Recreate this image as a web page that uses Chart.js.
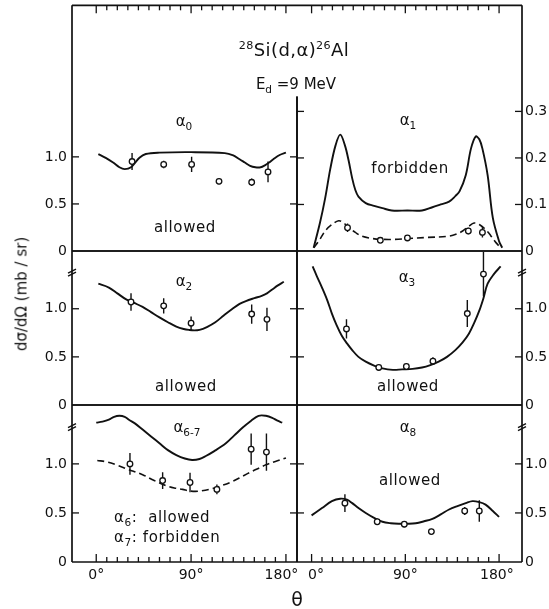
<!DOCTYPE html>
<html>
<head>
<meta charset="utf-8">
<script src="https://cdn.jsdelivr.net/npm/chart.js@4.4.0/dist/chart.umd.min.js"></script>
<style>
  body { margin: 0; background: #fff; }
  #wrap { position: relative; width: 549px; height: 609px; overflow: hidden; font-family: 'DejaVu Sans', sans-serif; color: #111; }
  #wrap canvas { position: absolute; left: 0; top: 0; }
  .t { position: absolute; transform: translate(-50%, -50%); white-space: nowrap; line-height: 1; }
  .l { position: absolute; transform: translate(0, -50%); white-space: nowrap; line-height: 1; }
  sup { font-size: 0.62em; vertical-align: 0.6em; line-height: 0; }
  sub { font-size: 0.7em; vertical-align: -0.45em; line-height: 0; }
  .lab { font-size: 15px; letter-spacing: 0.6px; }
  .al { font-size: 15px; }
</style>
</head>
<body>
<div id="wrap">
  <canvas id="c0" width="549" height="609"></canvas>
  <canvas id="c1" width="549" height="609"></canvas>
  <canvas id="c2" width="549" height="609"></canvas>
  <canvas id="c3" width="549" height="609"></canvas>
  <canvas id="c4" width="549" height="609"></canvas>
  <canvas id="c5" width="549" height="609"></canvas>

  <div class="t" style="left:294px;top:50px;font-size:18px;letter-spacing:0.4px"><sup>28</sup>Si(d,α)<sup>26</sup>Al</div>
  <div class="t" style="left:296px;top:84px;font-size:15px">E<sub>d</sub> =9 MeV</div>

  <div class="t al" style="left:184px;top:121px">α<sub>0</sub></div>
  <div class="t al" style="left:408px;top:120px">α<sub>1</sub></div>
  <div class="t al" style="left:184px;top:281px">α<sub>2</sub></div>
  <div class="t al" style="left:407px;top:277px">α<sub>3</sub></div>
  <div class="t al" style="left:187px;top:427px">α<sub>6-7</sub></div>
  <div class="t al" style="left:408px;top:427px">α<sub>8</sub></div>

  <div class="t lab" style="left:185px;top:227px">allowed</div>
  <div class="t lab" style="left:410px;top:168px">forbidden</div>
  <div class="t lab" style="left:186px;top:386px">allowed</div>
  <div class="t lab" style="left:408px;top:386px">allowed</div>
  <div class="t lab" style="left:410px;top:480px">allowed</div>
  <div class="l lab" style="left:114px;top:517px">α<sub>6</sub>:&nbsp; allowed</div>
  <div class="l lab" style="left:114px;top:537px">α<sub>7</sub>: forbidden</div>

  <div class="t" style="left:22px;top:294px;font-size:15px;transform:translate(-50%,-50%) rotate(-90deg)">dσ/dΩ (mb / sr)</div>
  <div class="t" style="left:297px;top:599px;font-size:19px">θ</div>
</div>
<script>
// --- data (angle in degrees, cross section in mb/sr) ---
const xLabels = [0, 90, 180];
const leftTicks = [0, 0.5, 1.0];
const a1Ticks = [0, 0.1, 0.2, 0.3];

// alpha0
const a0Theta = [34, 64, 90.5, 116.5, 147.5, 163];
const a0Val = [0.95, 0.92, 0.92, 0.74, 0.73, 0.84];
const a0Err = [0.09, 0.04, 0.08, 0.03, 0.04, 0.11];
const a0CurveT = [2, 9, 16, 22, 27, 33, 41, 47, 60, 90, 122, 130, 136, 141, 146, 151, 156, 160, 164, 168, 174, 180];
const a0CurveV = [1.03, 0.99, 0.94, 0.89, 0.87, 0.89, 0.99, 1.03, 1.045, 1.05, 1.04, 1.015, 0.975, 0.94, 0.905, 0.89, 0.89, 0.91, 0.94, 0.975, 1.02, 1.045];

// alpha1 (right scale, 0 - 0.3)
const a1Theta = [34.5, 66, 92, 150.5, 164];
const a1Val = [0.05, 0.023, 0.028, 0.043, 0.04];
const a1Err = [0.009, 0.005, 0.005, 0.007, 0.011];
const a1CurveT = [2, 8, 13, 18, 23, 27.5, 32, 35.5, 39, 42, 45, 52, 60, 68, 77, 92, 106, 116, 124, 132, 138, 142, 148, 153, 157.5, 161, 164, 169, 174, 180, 183];
const a1CurveV = [0.007, 0.06, 0.113, 0.177, 0.227, 0.25, 0.227, 0.195, 0.156, 0.131, 0.117, 0.103, 0.097, 0.092, 0.087, 0.087, 0.087, 0.094, 0.1, 0.106, 0.118, 0.128, 0.163, 0.22, 0.246, 0.24, 0.22, 0.163, 0.071, 0.021, 0.007];
const a1DashT = [2, 8, 13, 19, 26, 31, 36, 42, 48, 58, 68, 80, 93, 110, 132, 140, 145, 151, 156, 161, 167, 172, 177, 181.5];
const a1DashV = [0.007, 0.025, 0.043, 0.056, 0.065, 0.06, 0.05, 0.04, 0.032, 0.027, 0.025, 0.025, 0.027, 0.029, 0.032, 0.037, 0.043, 0.053, 0.06, 0.057, 0.046, 0.033, 0.018, 0.007];

// alpha2
const a2Theta = [33, 64, 90, 147.5, 162];
const a2Val = [1.07, 1.03, 0.85, 0.945, 0.89];
const a2Err = [0.09, 0.08, 0.07, 0.1, 0.12];
const a2CurveT = [2, 12, 20, 28, 36, 44, 52, 60, 68, 76, 83, 88, 93, 98, 105, 113, 121, 129, 136, 142, 150, 157, 162, 167, 172, 178];
const a2CurveV = [1.26, 1.22, 1.16, 1.1, 1.06, 1.02, 0.965, 0.91, 0.86, 0.815, 0.79, 0.78, 0.775, 0.78, 0.81, 0.86, 0.93, 0.997, 1.05, 1.08, 1.11, 1.134, 1.16, 1.2, 1.24, 1.28];

// alpha3
const a3Theta = [33.5, 64.5, 91, 116.5, 149.5, 165];
const a3Val = [0.79, 0.39, 0.4, 0.455, 0.95, 1.36];
const a3Err = [0.1, 0.03, 0.03, 0.04, 0.14, 0.23];
const a3CurveT = [1, 5, 10, 15, 19.5, 24, 29, 34, 39, 45, 52, 60, 68, 78, 87, 97, 106, 114, 122, 130, 138, 145, 151, 156, 161, 165, 169, 175, 181.5];
const a3CurveV = [1.44, 1.34, 1.22, 1.09, 0.95, 0.83, 0.72, 0.64, 0.57, 0.5, 0.45, 0.41, 0.38, 0.365, 0.37, 0.375, 0.39, 0.415, 0.45, 0.5, 0.57, 0.65, 0.74, 0.85, 0.98, 1.11, 1.26, 1.36, 1.44];

// alpha6-7
const a67Theta = [32, 63, 89, 114.5, 147, 161.5];
const a67Val = [1.0, 0.83, 0.81, 0.74, 1.15, 1.12];
const a67Err = [0.11, 0.085, 0.1, 0.05, 0.16, 0.19];
const a67CurveT = [0, 6, 12, 17, 22, 27, 31, 37, 44, 52, 60, 68, 76, 84, 91, 98, 104, 112, 123, 131, 139, 147, 154, 161, 167, 172, 176.5];
const a67CurveV = [1.42, 1.43, 1.45, 1.48, 1.49, 1.48, 1.45, 1.41, 1.35, 1.28, 1.21, 1.14, 1.09, 1.055, 1.04, 1.05, 1.08, 1.13, 1.21, 1.29, 1.37, 1.44, 1.49, 1.49, 1.47, 1.44, 1.42];
const a67DashT = [1, 10, 19, 30, 44, 55, 66, 74, 82, 88, 94, 100, 107, 118, 129, 139, 148, 155, 161, 170, 180];
const a67DashV = [1.035, 1.02, 0.99, 0.945, 0.89, 0.83, 0.78, 0.755, 0.74, 0.725, 0.72, 0.725, 0.74, 0.775, 0.82, 0.875, 0.925, 0.96, 0.99, 1.025, 1.06];

// alpha8
const a8Theta = [32, 63, 89, 115, 147, 161];
const a8Val = [0.6, 0.41, 0.385, 0.31, 0.52, 0.52];
const a8Err = [0.09, 0.03, 0.03, 0.03, 0.04, 0.11];
const a8CurveT = [0, 10, 19.5, 27.5, 34, 39, 45, 52, 60, 68, 76, 84, 92, 100, 108, 116, 124, 132, 140, 148, 154.5, 161, 167, 174, 180];
const a8CurveV = [0.475, 0.55, 0.62, 0.645, 0.635, 0.6, 0.55, 0.5, 0.45, 0.41, 0.395, 0.39, 0.39, 0.395, 0.415, 0.44, 0.485, 0.535, 0.57, 0.6, 0.62, 0.61, 0.585, 0.52, 0.46];

// --- layout ---
const W = 549, H = 609;
const INK = '#111';
const NB = '\u00A0';
Chart.defaults.font.family = "'DejaVu Sans', sans-serif";
Chart.defaults.color = INK;

// the printed angle labels sit a little off-centre near the panel divider
const cols = [
  { x0: 72, x1: 297, min: -23, max: 190.5, yPos: 'left', axisW: 30,
    xText: v => v === 180 ? '180°' + NB + NB : v + '°' },
  { x0: 297, x1: 522, min: -14, max: 202, yPos: 'right', axisW: 27,
    xText: v => v === 0 ? NB + NB + '0°' : (v === 180 ? '180°' + NB : v + '°') }
];
const rows = [{ y0: 3, y1: 251 }, { y0: 251, y1: 405 }, { y0: 405, y1: 562 }];

const pts = (t, v) => t.map((x, i) => ({ x, y: v[i] }));
const errBars = (t, v, e) => {
  const out = [];
  t.forEach((x, i) => out.push({ x, y: v[i] - e[i] }, { x, y: v[i] + e[i] }, { x, y: null }));
  return out;
};

const points = (t, v) => ({
  data: pts(t, v), showLine: false, pointRadius: 2.8, pointBorderWidth: 1.3,
  pointBackgroundColor: '#fff', pointBorderColor: INK
});
const bars = (t, v, e) => ({
  data: errBars(t, v, e), borderColor: INK, borderWidth: 1.4, pointRadius: 0, spanGaps: false
});
const curve = (t, v, dashed) => ({
  data: pts(t, v), borderColor: INK, borderWidth: dashed ? 1.6 : 1.9, pointRadius: 0,
  tension: 0.35, borderDash: dashed ? [7, 4] : []
});

// frame, inward ticks and axis breaks
const framePlugin = {
  id: 'frame',
  afterDraw(chart, args, o) {
    const { ctx, chartArea: a, scales: { x, y } } = chart;
    const line = (x1, y1, x2, y2) => { ctx.beginPath(); ctx.moveTo(x1, y1); ctx.lineTo(x2, y2); ctx.stroke(); };
    ctx.save();
    ctx.strokeStyle = INK;
    ctx.lineWidth = 1.7;
    line(a.left, a.top, a.right, a.top);
    line(a.left, a.bottom, a.right, a.bottom);
    const innerTop = o.innerFrom != null ? y.getPixelForValue(o.innerFrom) : a.top;
    if (o.col === 0) {
      line(a.left, a.top, a.left, a.bottom);
      line(a.right, innerTop, a.right, a.bottom);
    } else {
      line(a.left, innerTop, a.left, a.bottom);
      line(a.right, a.top, a.right, a.bottom);
    }
    ctx.lineWidth = 1.3;
    if (o.xTicks) {
      for (let v = 0; v <= 180; v += 10) {
        const px = x.getPixelForValue(v);
        const len = v % 90 === 0 ? 8 : 5;
        if (o.xTicks === 'top') line(px, a.top, px, a.top + len);
        else line(px, a.bottom, px, a.bottom - len);
      }
    }
    o.yTicks.forEach(v => {
      if (v === 0) return;
      const py = y.getPixelForValue(v);
      line(a.left, py, a.left + 7, py);
      line(a.right - 7, py, a.right, py);
    });
    if (o.breakAt != null) {
      const xe = o.col === 0 ? a.left : a.right;
      const yb = y.getPixelForValue(o.breakAt);
      line(xe - 4, yb + 1, xe + 4, yb - 3);
      line(xe - 4, yb + 4, xe + 4, yb);
    }
    ctx.restore();
  }
};

function panel(id, c, r, yMax, yTicks, datasets, innerFrom) {
  const col = cols[c], row = rows[r];
  const xAxisH = r === 2 ? 22 : 0;
  new Chart(document.getElementById(id), {
    type: 'line',
    data: { datasets },
    options: {
      responsive: false,
      animation: false,
      events: [],
      layout: {
        padding: {
          left: c === 0 ? col.x0 - col.axisW : col.x0,
          right: c === 0 ? W - col.x1 : W - col.x1 - col.axisW,
          top: row.y0,
          bottom: H - row.y1 - xAxisH
        }
      },
      plugins: {
        legend: { display: false },
        tooltip: { enabled: false },
        frame: {
          col: c, yTicks, innerFrom,
          xTicks: r === 0 ? 'top' : (r === 2 ? 'bottom' : null),
          breakAt: r > 0 ? 1.38 : null
        }
      },
      scales: {
        x: {
          type: 'linear', min: col.min, max: col.max, position: 'bottom', display: r === 2,
          grid: { display: false, drawTicks: false }, border: { display: false },
          afterBuildTicks: s => { s.ticks = xLabels.map(v => ({ value: v })); },
          afterFit: s => { s.height = xAxisH; s.paddingLeft = 0; s.paddingRight = 0; },
          ticks: { callback: col.xText, padding: 5, font: { size: 14 }, maxRotation: 0, autoSkip: false }
        },
        y: {
          type: 'linear', min: 0, max: yMax, position: col.yPos,
          grid: { display: false, drawTicks: false }, border: { display: false },
          afterBuildTicks: s => { s.ticks = yTicks.map(v => ({ value: v })); },
          afterFit: s => { s.width = col.axisW; s.paddingTop = 0; s.paddingBottom = 0; },
          ticks: { callback: v => v === 0 ? '0' : v.toFixed(1), padding: c === 0 ? 5 : 3, font: { size: 14 }, autoSkip: false }
        }
      }
    },
    plugins: [framePlugin]
  });
}

panel('c0', 0, 0, 2.61, leftTicks, [
  points(a0Theta, a0Val), bars(a0Theta, a0Val, a0Err), curve(a0CurveT, a0CurveV)
], 1.64);
panel('c1', 1, 0, 0.528, a1Ticks, [
  points(a1Theta, a1Val), bars(a1Theta, a1Val, a1Err), curve(a1CurveT, a1CurveV), curve(a1DashT, a1DashV, true)
], 0.332);
panel('c2', 0, 1, 1.6, leftTicks, [
  points(a2Theta, a2Val), bars(a2Theta, a2Val, a2Err), curve(a2CurveT, a2CurveV)
]);
panel('c3', 1, 1, 1.6, leftTicks, [
  points(a3Theta, a3Val), bars(a3Theta, a3Val, a3Err), curve(a3CurveT, a3CurveV)
]);
panel('c4', 0, 2, 1.6, leftTicks, [
  points(a67Theta, a67Val), bars(a67Theta, a67Val, a67Err), curve(a67CurveT, a67CurveV), curve(a67DashT, a67DashV, true)
]);
panel('c5', 1, 2, 1.6, leftTicks, [
  points(a8Theta, a8Val), bars(a8Theta, a8Val, a8Err), curve(a8CurveT, a8CurveV)
]);
</script>
</body>
</html>
